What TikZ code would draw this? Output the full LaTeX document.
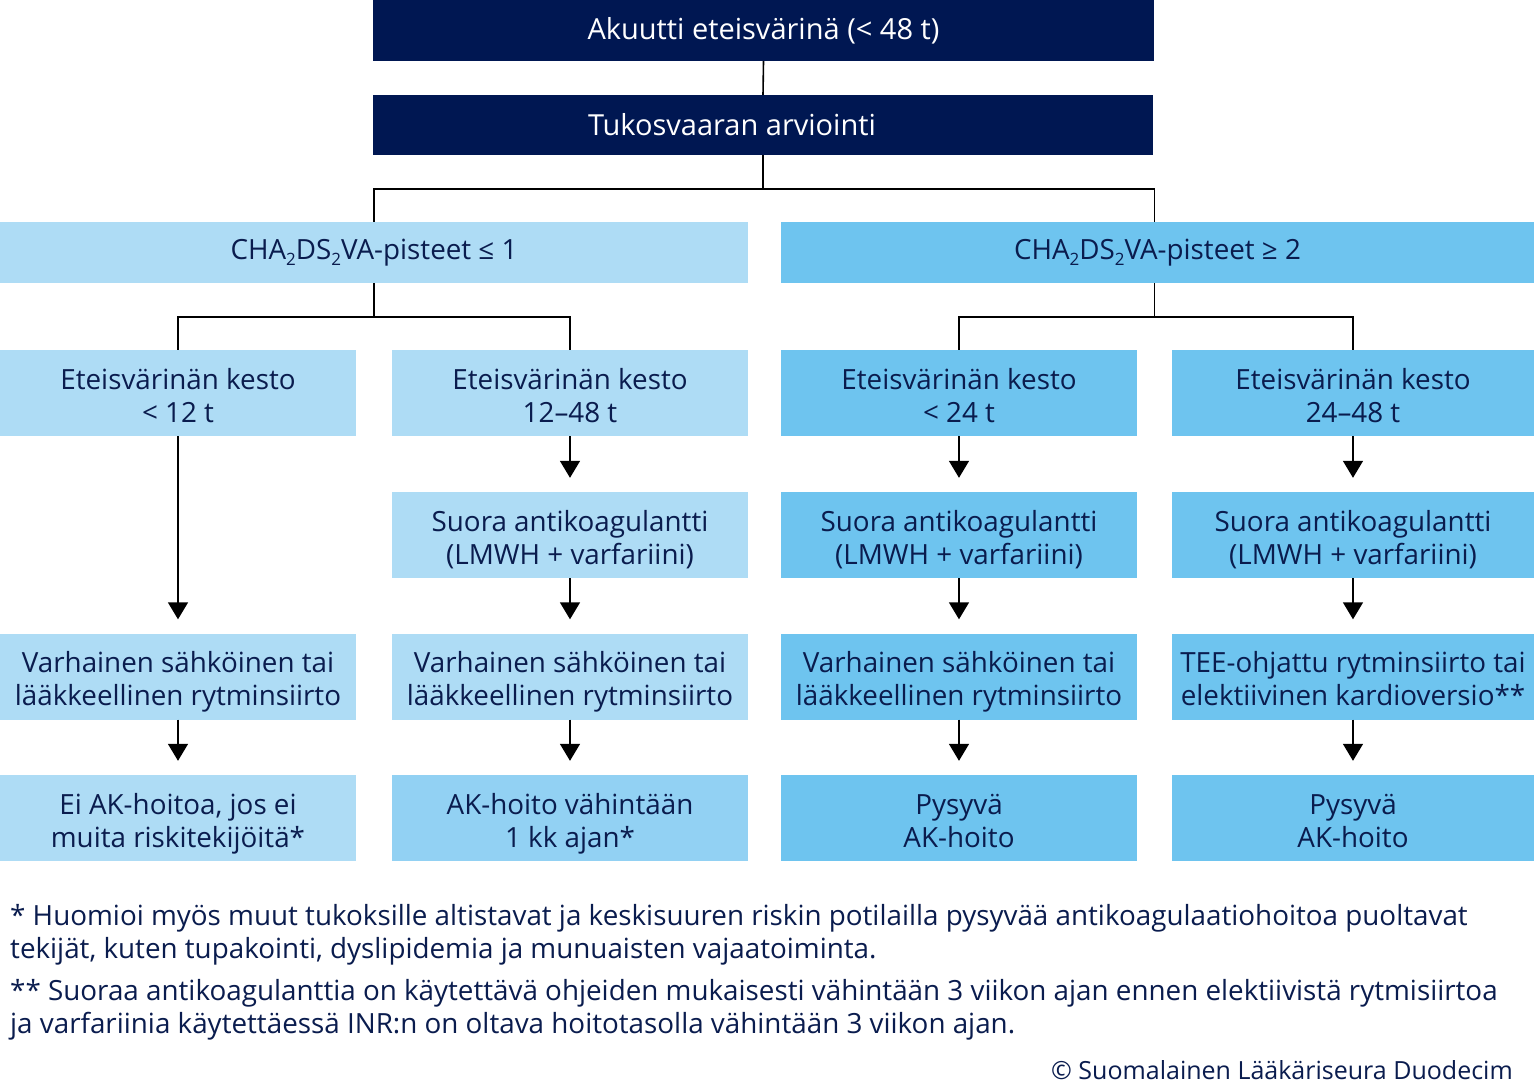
\documentclass[tikz,border=0pt]{standalone}
\usepackage{fontspec}
\setmainfont{Open Sans}
\usetikzlibrary{arrows.meta}
\definecolor{navy}{HTML}{001752}
\definecolor{txtnavy}{HTML}{0A1C4E}
\definecolor{lightblue}{HTML}{AEDCF5}
\definecolor{midblue}{HTML}{6EC4EF}
\definecolor{interblue}{HTML}{92D1F3}
\newcommand{\subtwo}{\raisebox{-6pt}{\fontsize{17}{17}\selectfont 2}}
\begin{document}
\begin{tikzpicture}[x=1pt,y=-1pt,
  box/.style={rectangle, inner sep=0pt, align=center, text=txtnavy,
    font=\fontsize{27.8}{33}\selectfont},
  darkbox/.style={box, fill=navy, text=white, minimum height=61pt,
    font=\fontsize{29}{33}\selectfont},
  tallbox/.style={box, minimum width=356pt, minimum height=86pt,
    text height=58pt, text depth=0pt},
  lbox/.style={tallbox, fill=lightblue},
  mbox/.style={tallbox, fill=midblue},
  conn/.style={line width=1.6pt, black},
  arr/.style={conn, -{Triangle[width=20pt,length=17pt]}, shorten >=14pt},
  foot/.style={inner sep=0pt, align=left, text=txtnavy, font=\fontsize{27.8}{33}\selectfont}
]
\useasboundingbox (0,0) rectangle (1534,1086);
\fill[white] (0,0) rectangle (1534,1086);

% top boxes
\node[darkbox, minimum width=781pt] (top) at (763.5,30.5) {Akuutti eteisvärinä (< 48 t)};
\node[darkbox, minimum width=780pt, minimum height=60pt] (tuk) at (763,125) {\raisebox{2pt}{\hspace*{-62pt}Tukosvaaran arviointi}};

% CHA boxes
\node[box, fill=lightblue, minimum width=748pt, minimum height=61pt] (chaL) at (374,252.5)
  {\raisebox{-1.5pt}{CHA\subtwo DS\subtwo VA-pisteet ≤ 1}};
\node[box, fill=midblue, minimum width=753pt, minimum height=61pt] (chaR) at (1157.5,252.5)
  {\raisebox{-1.5pt}{CHA\subtwo DS\subtwo VA-pisteet ≥ 2}};

% row 3
\node[lbox] (r3a) at (178,393) {Eteisvärinän kesto\\< 12 t};
\node[lbox] (r3b) at (570,393) {Eteisvärinän kesto\\12–48 t};
\node[mbox] (r3c) at (959,393) {Eteisvärinän kesto\\< 24 t};
\node[mbox, minimum width=362pt] (r3d) at (1353,393) {Eteisvärinän kesto\\24–48 t};

% row 4
\node[lbox] (r4b) at (570,535) {Suora antikoagulantti\\(LMWH + varfariini)};
\node[mbox] (r4c) at (959,535) {Suora antikoagulantti\\(LMWH + varfariini)};
\node[mbox, minimum width=362pt] (r4d) at (1353,535) {Suora antikoagulantti\\(LMWH + varfariini)};

% row 5
\node[lbox] (r5a) at (178,676.5) {Varhainen sähköinen tai\\lääkkeellinen rytminsiirto};
\node[lbox] (r5b) at (570,676.5) {Varhainen sähköinen tai\\lääkkeellinen rytminsiirto};
\node[mbox] (r5c) at (959,676.5) {Varhainen sähköinen tai\\lääkkeellinen rytminsiirto};
\node[mbox, minimum width=362pt] (r5d) at (1353,676.5) {TEE-ohjattu rytminsiirto tai\\elektiivinen kardioversio**};

% row 6
\node[lbox] (r6a) at (178,818) {Ei AK-hoitoa, jos ei\\muita riskitekijöitä*};
\node[tallbox, fill=interblue] (r6b) at (570,818) {AK-hoito vähintään\\1 kk ajan*};
\node[mbox] (r6c) at (959,818) {Pysyvä\\AK-hoito};
\node[mbox, minimum width=362pt] (r6d) at (1353,818) {Pysyvä\\AK-hoito};

% connectors
\draw[conn] (top.south) -- (tuk.north);
\draw[conn] (tuk.south) -- ++(0,34) -| (chaL.north);
\draw[conn] (tuk.south) -- ++(0,34) -| ([xshift=-3pt]chaR.north);
\draw[conn] (chaL.south) -- ++(0,34) -| (r3a.north);
\draw[conn] (chaL.south) -- ++(0,34) -| (r3b.north);
\draw[conn] ([xshift=-3pt]chaR.south) -- ++(0,34) -| (r3c.north);
\draw[conn] ([xshift=-3pt]chaR.south) -- ++(0,34) -| (r3d.north);

\draw[arr] (r3a.south) -- (r5a.north);
\draw[arr] (r5a.south) -- (r6a.north);
\draw[arr] (r3b.south) -- (r4b.north);
\draw[arr] (r4b.south) -- (r5b.north);
\draw[arr] (r5b.south) -- (r6b.north);
\draw[arr] (r3c.south) -- (r4c.north);
\draw[arr] (r4c.south) -- (r5c.north);
\draw[arr] (r5c.south) -- (r6c.north);
\draw[arr] (r3d.south) -- (r4d.north);
\draw[arr] (r4d.south) -- (r5d.north);
\draw[arr] (r5d.south) -- (r6d.north);

% footnotes
\node[foot, anchor=west] (f1) at (10,934.5) {* Huomioi myös muut tukoksille altistavat ja keskisuuren riskin potilailla pysyvää antikoagulaatiohoitoa puoltavat\\tekijät, kuten tupakointi, dyslipidemia ja munuaisten vajaatoiminta.};
\node[foot, anchor=west] (f2) at (10,1009.5) {** Suoraa antikoagulanttia on käytettävä ohjeiden mukaisesti vähintään 3 viikon ajan ennen elektiivistä rytmisiirtoa\\ja varfariinia käytettäessä INR:n on oltava hoitotasolla vähintään 3 viikon ajan.};
\node[foot, anchor=east, font=\fontsize{25}{30}\selectfont] (copy) at (1513,1070) {© Suomalainen Lääkäriseura Duodecim};
\end{tikzpicture}
\end{document}
